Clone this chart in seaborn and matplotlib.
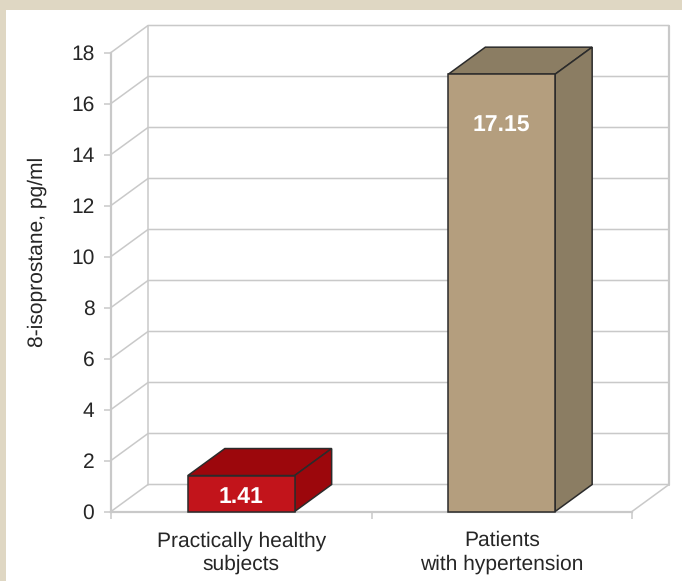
import matplotlib
matplotlib.use('Agg')
import matplotlib.pyplot as plt
from matplotlib.patches import Polygon, Rectangle
import pandas as pd
import seaborn as sns

# dados
grupos = ['Practically healthy\nsubjects', 'Patients\nwith hypertension']
valores = [1.41, 17.15]
rotulos = ['1.41', '17.15']
marcas_y = list(range(0, 19, 2))

cor_frente = ['#C2141B', '#B49E7E']
cor_topo = ['#9C070C', '#8B7D63']
cor_lado = ['#9C070C', '#8B7D63']
cor_grade = '#C9C9C9'
cor_texto = '#262626'

sns.set_theme(style='white')
plt.rcParams['font.family'] = ['Liberation Sans', 'DejaVu Sans']
plt.rcParams['text.hinting'] = 'no_hinting'
plt.rcParams['text.hinting_factor'] = 1

W, H = 682, 581
fig = plt.figure(figsize=(W / 100, H / 100), dpi=100, facecolor='#DFD7C3')
fig.add_artist(Rectangle((6 / W, 0), 1 - 6 / W, 1 - 9.5 / H, transform=fig.transFigure,
                         facecolor='white', edgecolor='none', zorder=-5))

# eixos na posicao da face frontal do grafico
ax = fig.add_axes([111 / W, 1 - 511.5 / H, 521 / W, 459 / H])
ax.patch.set_alpha(0)

df = pd.DataFrame({'grupo': grupos, 'valor': valores})
sns.barplot(data=df, x='grupo', y='valor', hue='grupo', palette=cor_frente, legend=False,
            width=0.41, edgecolor='#2B2B2B', linewidth=1.1, saturation=1, ax=ax, zorder=4)
ax.set_xlim(-0.5, 1.5)
ax.set_ylim(0, 18)

# profundidade do efeito 3D, em unidades dos dados
dx = 37 / 260.5
dy = 27 / 25.5

# paredes e grade
for v in marcas_y:
    ax.plot([-0.5, -0.5 + dx, 1.5 + dx], [v, v + dy, v + dy], color=cor_grade, lw=1.1,
            clip_on=False, zorder=1)
ax.plot([-0.5 + dx, -0.5 + dx], [dy, 18 + dy], color=cor_grade, lw=1.1, clip_on=False, zorder=1)
ax.plot([1.5 + dx, 1.5 + dx], [dy, 18 + dy], color=cor_grade, lw=1.6, clip_on=False, zorder=1)
ax.plot([1.5, 1.5 + dx], [0, dy], color=cor_grade, lw=1.1, clip_on=False, zorder=1)

# faces de cima e do lado de cada barra
for i, barra in enumerate(ax.patches):
    x0 = barra.get_x()
    x1 = x0 + barra.get_width()
    h = barra.get_height()
    ax.add_patch(Polygon([(x0, h), (x1, h), (x1 + dx, h + dy), (x0 + dx, h + dy)], closed=True,
                         facecolor=cor_topo[i], edgecolor='#2B2B2B', lw=1.1,
                         clip_on=False, zorder=3))
    ax.add_patch(Polygon([(x1, 0), (x1 + dx, dy), (x1 + dx, h + dy), (x1, h)], closed=True,
                         facecolor=cor_lado[i], edgecolor='#2B2B2B', lw=1.1,
                         clip_on=False, zorder=3))
    barra.set_clip_on(False)

ax.text(0, 0.58, rotulos[0], color='white', fontsize=16.8, fontweight='bold',
        ha='center', va='center', zorder=5)
ax.text(1, 15.11, rotulos[1], color='white', fontsize=16.8, fontweight='bold',
        ha='center', va='center', zorder=5)

for lado in ['top', 'right']:
    ax.spines[lado].set_visible(False)
for lado in ['left', 'bottom']:
    ax.spines[lado].set_color(cor_grade)
    ax.spines[lado].set_linewidth(1.6)

ax.set_yticks(marcas_y)
ax.set_xticks([-0.5, 0.5, 1.5], minor=True)
ax.tick_params(axis='x', which='minor', length=5, width=1.1, color=cor_grade, bottom=True)
ax.tick_params(axis='x', which='major', length=0, pad=14, labelsize=15.3, labelcolor=cor_texto)
ax.tick_params(axis='y', length=5, width=1.1, color=cor_grade, left=True, pad=7,
               labelsize=15.3, labelcolor=cor_texto)
for t in ax.get_xticklabels():
    t.set_linespacing(1.26)
ax.set_xlabel('')
ax.set_ylabel('8-isoprostane, pg/ml', fontsize=15.2, color=cor_texto, labelpad=17, y=0.565)

fig.savefig('out.png', dpi=100, facecolor=fig.get_facecolor())
